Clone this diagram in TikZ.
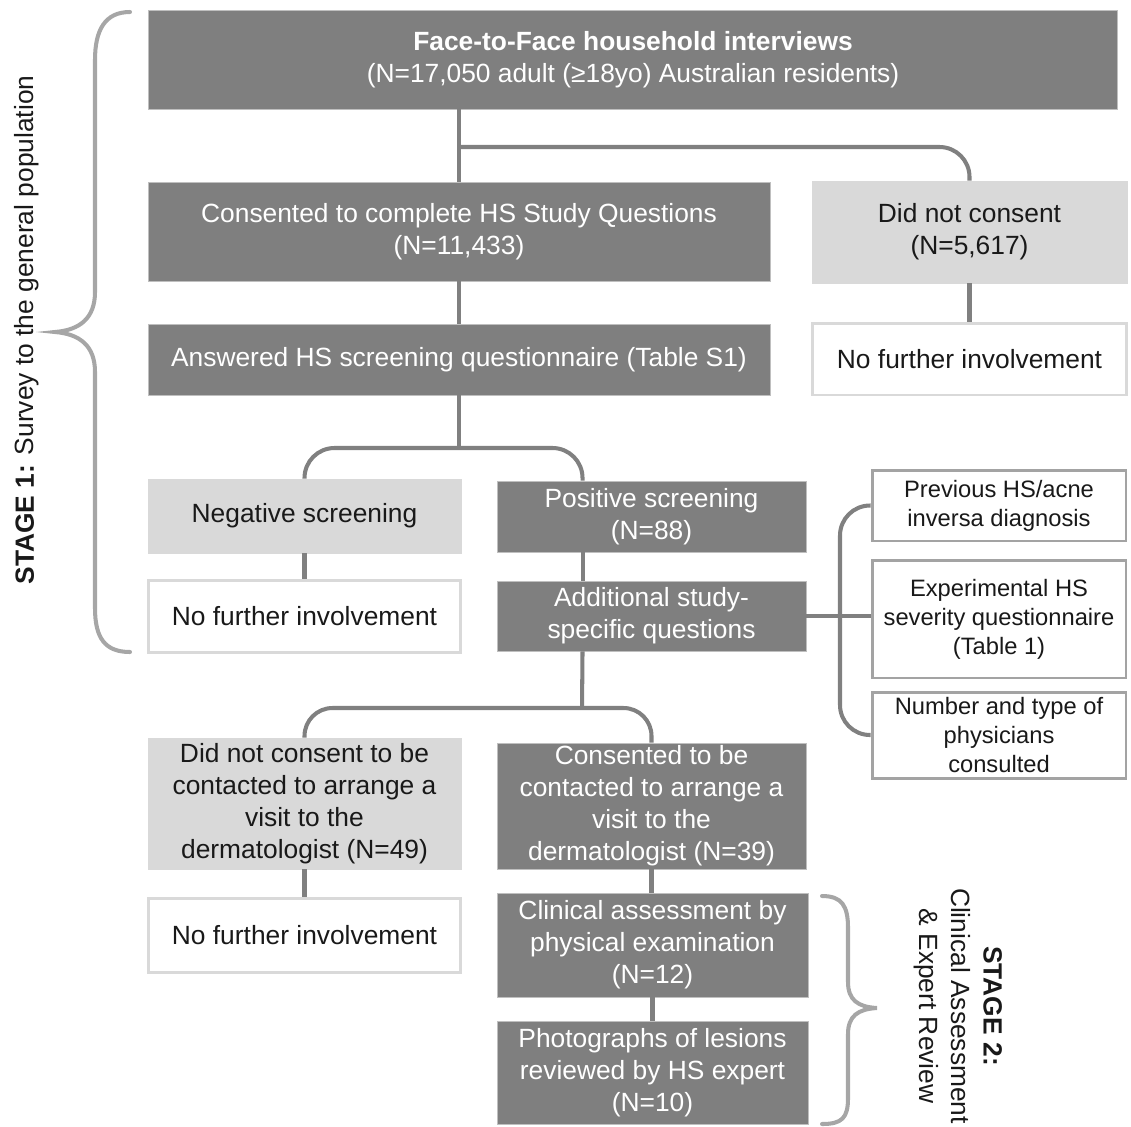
\documentclass[tikz,border=0pt]{standalone}
\usepackage{fontspec}
\setmainfont{Liberation Sans}
\usepackage{tikz}
\usetikzlibrary{positioning, calc}

\definecolor{boxdark}{HTML}{7F7F7F}
\definecolor{boxlight}{HTML}{D9D9D9}
\definecolor{linkgray}{HTML}{808080}
\definecolor{bracegray}{HTML}{A6A6A6}
\definecolor{itemgray}{HTML}{A3A3A3}

\tikzset{
  darkbox/.style={draw=black!25, line width=0.5pt, fill=boxdark, text=white,
                  align=center, inner sep=0pt, font=\fontsize{15}{18.2}\selectfont},
  lightbox/.style={draw=boxlight, line width=0.5pt, fill=boxlight, text=black!90,
                   align=center, inner sep=0pt, font=\fontsize{15}{18.2}\selectfont},
  whitebox/.style={draw=boxlight, line width=1.7pt, fill=white, text=black!90,
                   align=center, inner sep=0pt, font=\fontsize{15}{18.2}\selectfont},
  itembox/.style={draw=itemgray, line width=1.7pt, fill=white, text=black!90,
                  align=center, inner sep=0pt, font=\fontsize{13.5}{16.5}\selectfont},
  link/.style={draw=linkgray, line width=2.3pt},
  bracket/.style={draw=bracegray, line width=2.3pt, line cap=round},
}

\begin{document}
\begin{tikzpicture}[x=0.02cm, y=-0.02cm]
    \useasboundingbox (0,0) rectangle (1131,1126);

    % boxes of stage 1
    \node (interviews) [darkbox, minimum width=19.4cm, minimum height=1.98cm] at (633,59.5)
        {\textbf{Face-to-Face household interviews}\\(N=17,050 adult (≥18yo) Australian residents)};
    \node (consent) [darkbox, minimum width=12.44cm, minimum height=1.98cm] at (459,231.5)
        {Consented to complete HS Study Questions\\(N=11,433)};
    \node (noconsent) [lightbox, minimum width=6.3cm, minimum height=2.04cm] at (969.5,232)
        {Did not consent\\(N=5,617)};
    \node (stopA) [whitebox, minimum width=6.3cm, minimum height=1.44cm] at (969.5,359)
        {No further involvement};
    \node (answered) [darkbox, minimum width=12.44cm, minimum height=1.42cm] at (459,359.5)
        {Answered HS screening questionnaire (Table S1)};
    \node (negative) [lightbox, minimum width=6.26cm, minimum height=1.48cm] at (304.5,516)
        {Negative screening};
    \node (positive) [darkbox, minimum width=6.18cm, minimum height=1.42cm] at (651.5,516.5)
        {Positive screening\\(N=88)};
    \node (stopB) [whitebox, minimum width=6.26cm, minimum height=1.44cm] at (304.5,616)
        {No further involvement};
    \node (additional) [darkbox, minimum width=6.18cm, minimum height=1.4cm] at (651.5,616)
        {Additional study-\\specific questions};

    % topics of the extra questions
    \node (previous) [itembox, minimum width=5.08cm, minimum height=1.42cm] at (999,505.5)
        {Previous HS/acne\\inversa diagnosis};
    \node (severity) [itembox, minimum width=5.08cm, minimum height=2.36cm] at (999,619)
        {Experimental HS\\severity questionnaire\\(Table 1)};
    \node (physicians) [itembox, minimum width=5.08cm, minimum height=1.72cm] at (999,735)
        {Number and type of\\physicians\\consulted};

    % boxes of stage 2
    \node (novisit) [lightbox, minimum width=6.26cm, minimum height=2.62cm] at (304.5,803.5)
        {Did not consent to be\\contacted to arrange a\\visit to the\\dermatologist (N=49)};
    \node (visit) [darkbox, minimum width=6.18cm, minimum height=2.52cm] at (651.5,806)
        {Consented to be\\contacted to arrange a\\visit to the\\dermatologist (N=39)};
    \node (stopC) [whitebox, minimum width=6.26cm, minimum height=1.48cm] at (304.5,935)
        {No further involvement};
    \node (clinical) [darkbox, minimum width=6.22cm, minimum height=2.08cm] at (652.5,945)
        {Clinical assessment by\\physical examination\\(N=12)};
    \node (photos) [darkbox, minimum width=6.22cm, minimum height=2.06cm] at (652.5,1072.5)
        {Photographs of lesions\\reviewed by HS expert\\(N=10)};

    % connectors
    \coordinate (splitA) at (459,147);
    \coordinate (splitB) at (459,448);
    \coordinate (splitC) at (582,708);
    \coordinate (itemrail) at (840,620);

    \draw[link] (interviews.south -| consent.north) -- (consent.north);
    \draw[link, rounded corners=0.6cm] (splitA) -| (noconsent.north);
    \draw[link] (consent.south) -- (answered.north);
    \draw[link] (noconsent.south) -- (stopA.north);

    \draw[link] (answered.south) -- (splitB);
    \draw[link, rounded corners=0.6cm] (negative.north) |- (splitB) -| ([xshift=-1.38cm]positive.north);
    \draw[link] (negative.south) -- (stopB.north);
    \draw[link] ([xshift=-1.38cm]positive.south) -- ([xshift=-1.38cm]additional.north);

    \draw[link] ([xshift=-1.38cm]additional.south) -- (splitC);
    \draw[link, rounded corners=0.56cm] (novisit.north) |- (splitC) -| (visit.north);
    \draw[link] (novisit.south) -- (stopC.north);
    \draw[link] (visit.south) -- (visit.south |- clinical.north);
    \draw[link] (clinical.south) -- (photos.north);

    \draw[link] (additional.east) -- (additional.east -| severity.west);
    \draw[link, rounded corners=0.6cm] (previous.west) -| (itemrail) |- (physicians.west);

    % stage braces
    \draw[bracket] (130,12) .. controls (105,12) and (95,30) .. (95,60) -- (95,292)
        .. controls (95,318) and (80,330) .. (55,332)
        .. controls (80,334) and (95,346) .. (95,372) -- (95,608)
        .. controls (95,638) and (105,652) .. (130,652);
    \draw[bracket] (822,896) .. controls (842,896) and (848,906) .. (848,928) -- (848,982)
        .. controls (848,1000) and (858,1007) .. (877,1008)
        .. controls (858,1009) and (848,1016) .. (848,1034) -- (848,1098)
        .. controls (848,1118) and (842,1124) .. (822,1124);

    \node (stageone) [rotate=90, text=black!90, font=\fontsize{15}{18.2}\selectfont] at (27,330)
        {\textbf{STAGE 1:} Survey to the general population};
    \node (stagetwo) [rotate=-90, text=black!90, align=center, font=\fontsize{15}{18.2}\selectfont] at (958,1006)
        {\textbf{STAGE 2:}\\Clinical Assessment\\\& Expert Review};
\end{tikzpicture}
\end{document}
